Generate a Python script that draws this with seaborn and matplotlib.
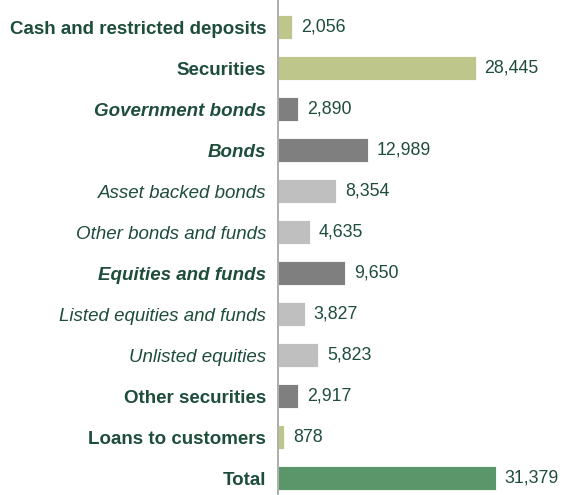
import matplotlib
matplotlib.use("Agg")
import matplotlib.pyplot as plt
import seaborn as sns
import pandas as pd

categories = [
    "Cash and restricted deposits",
    "Securities",
    "Government bonds",
    "Bonds",
    "Asset backed bonds",
    "Other bonds and funds",
    "Equities and funds",
    "Listed equities and funds",
    "Unlisted equities",
    "Other securities",
    "Loans to customers",
    "Total",
]
values = [2056, 28445, 2890, 12989, 8354, 4635, 9650, 3827, 5823, 2917, 878, 31379]
value_labels = ["2,056", "28,445", "2,890", "12,989", "8,354", "4,635",
                "9,650", "3,827", "5,823", "2,917", "878", "31,379"]
# label style per row: "b" bold, "bi" bold italic, "i" italic
label_styles = ["b", "b", "bi", "bi", "i", "i", "bi", "i", "i", "b", "b", "b"]

OLIVE = "#BFC68C"
DARK = "#7F7F7F"
LIGHT = "#BFBFBF"
GREEN = "#5A9669"
TEXT = "#1E4D3B"
bar_colors = [OLIVE, OLIVE, DARK, DARK, LIGHT, LIGHT, DARK, LIGHT, LIGHT, DARK, OLIVE, GREEN]

sns.set_theme(style="white")
plt.rcParams["font.family"] = ["Liberation Sans", "DejaVu Sans"]

df = pd.DataFrame({"category": categories, "value": values})

fig = plt.figure(figsize=(5.61, 4.95), dpi=100)
ax = fig.add_axes([278 / 561, 0, 283 / 561, 1])

sns.barplot(data=df, x="value", y="category", hue="category",
            palette=bar_colors, legend=False, width=0.58, ax=ax,
            edgecolor="white", linewidth=0.6, saturation=1)

ax.set_xlim(0, 31379 * 283 / 218)
ax.set_ylim(11.41, -0.66)
ax.set_xlabel("")
ax.set_ylabel("")
ax.set_xticks([])

for side in ("top", "right", "bottom"):
    ax.spines[side].set_visible(False)
ax.spines["left"].set_color("#A0A0A0")
ax.spines["left"].set_linewidth(1.2)

ax.tick_params(axis="y", length=0, pad=8.6)
ax.set_yticks(range(len(categories)))
ax.set_yticklabels(categories)
for lbl, style in zip(ax.get_yticklabels(), label_styles):
    lbl.set_color(TEXT)
    lbl.set_fontsize(13.5)
    if "b" in style:
        lbl.set_fontweight("bold")
    if "i" in style:
        lbl.set_fontstyle("italic")

for i, (v, txt) in enumerate(zip(values, value_labels)):
    ax.annotate(txt, xy=(v, i), xytext=(6.3, 0), textcoords="offset points",
                va="center", ha="left", fontsize=12.8, color=TEXT)

fig.savefig("out.png", dpi=100)
